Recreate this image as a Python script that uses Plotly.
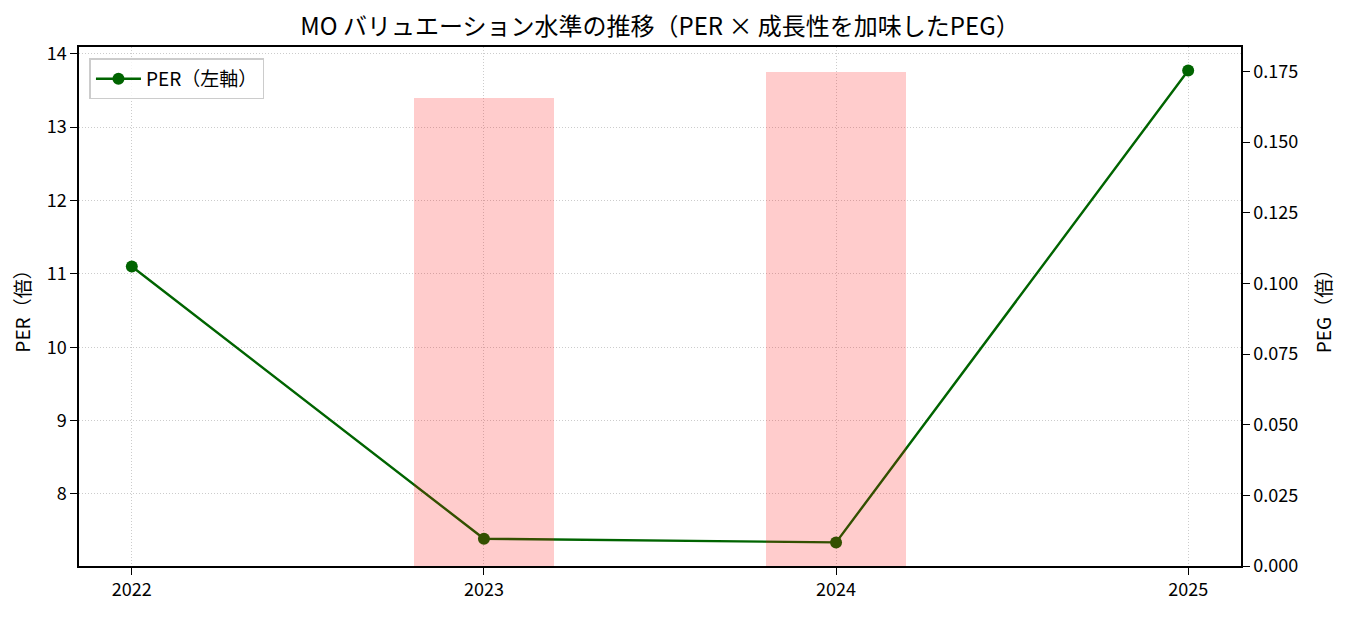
import plotly.graph_objects as go

years = [2022, 2023, 2024, 2025]
per = [11.10, 7.39, 7.34, 13.77]
peg = [None, 0.1656, 0.1749, None]

FONT = "Noto Sans CJK JP"

# matplotlib-like 5% margins
per_span = max(per) - min(per)
per_range = [min(per) - 0.05 * per_span, max(per) + 0.05 * per_span]
peg_max = max(v for v in peg if v is not None)
x_range = [years[0] - 0.05 * (years[-1] - years[0]), years[-1] + 0.05 * (years[-1] - years[0])]

# page body adds an 8px margin, so the figure is a bit smaller
W, H = 1343, 609

fig = go.Figure()

fig.add_trace(go.Scatter(
    x=years, y=per, name="PER（左軸）", mode="lines+markers",
    line=dict(color="#006400", width=2.4),
    marker=dict(color="#006400", size=12),
    yaxis="y",
))

fig.add_trace(go.Bar(
    x=years, y=peg, name="PEG（右軸）", width=0.4,
    marker=dict(color="red", line=dict(width=0)),
    opacity=0.2, showlegend=False, yaxis="y2",
))

axis_common = dict(
    showline=True, linecolor="black", linewidth=1.5,
    ticks="outside", ticklen=7, tickwidth=1.3, tickcolor="black",
    tickfont=dict(family=FONT, size=18, color="black"),
    zeroline=False,
)
grid = dict(showgrid=True, gridcolor="#cccccc", gridwidth=1, griddash="1px,2px")

fig.update_layout(
    width=W, height=H,
    margin=dict(l=71, r=110, t=39, b=51),
    paper_bgcolor="white", plot_bgcolor="white",
    font=dict(family=FONT, size=18, color="black"),
    title=dict(
        text="MO バリュエーション水準の推移（PER × 成長性を加味したPEG）",
        font=dict(family=FONT, size=24, color="black"),
        x=0.5, xref="paper", xanchor="center",
        y=1 - 19 / H, yref="container", yanchor="middle",
    ),
    xaxis=dict(
        **axis_common, **grid, range=x_range, tickvals=years,
        ticktext=[str(y) for y in years], mirror=True,
    ),
    yaxis=dict(
        **axis_common, **grid, range=per_range, dtick=1, tick0=8,
        title=dict(text="PER（倍）", font=dict(family=FONT, size=19), standoff=14),
    ),
    yaxis2=dict(
        **axis_common, overlaying="y", side="right",
        range=[0, peg_max * 1.05], dtick=0.025, tick0=0, tickformat=".3f",
        showgrid=False,
        title=dict(text="PEG（倍）", font=dict(family=FONT, size=19), standoff=20),
    ),
    legend=dict(
        x=0.009, y=0.978, xanchor="left", yanchor="top",
        bgcolor="rgba(255,255,255,0.8)", bordercolor="#cccccc", borderwidth=1.5,
        font=dict(family=FONT, size=19, color="black"),
        itemwidth=45,
    ),
    bargap=0,
)

fig.write_html("out.html")
